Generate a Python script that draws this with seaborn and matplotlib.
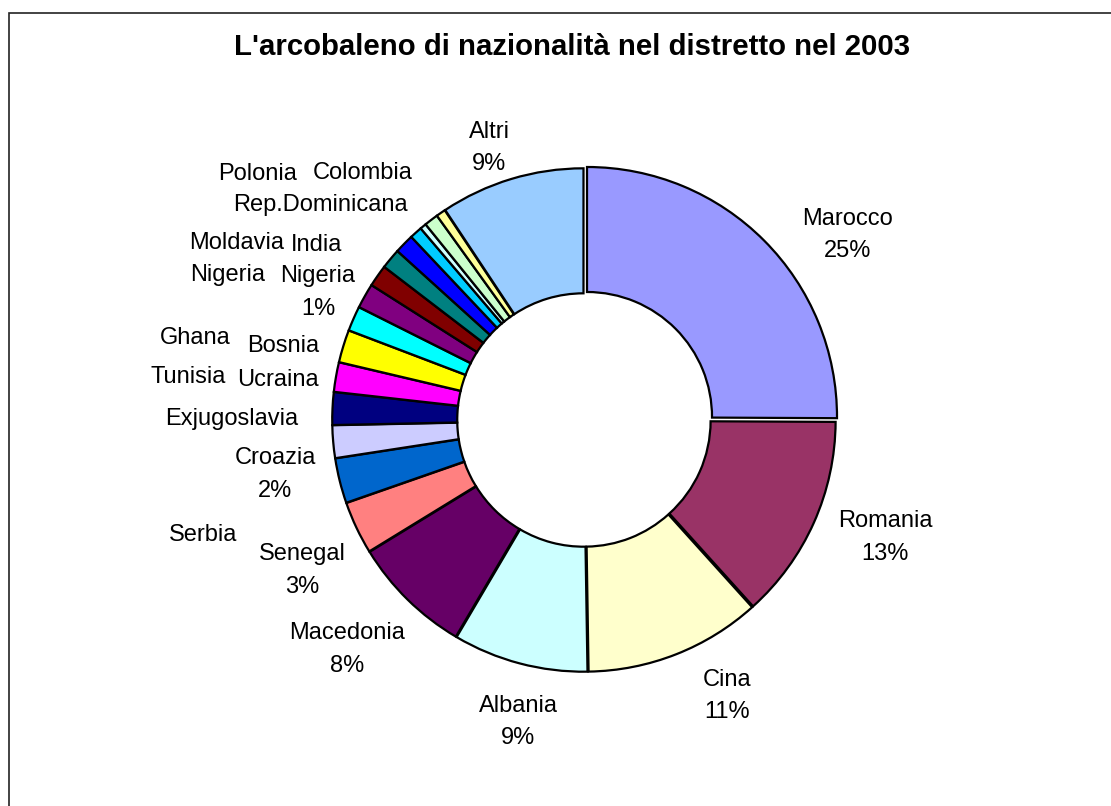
import matplotlib
matplotlib.use("Agg")
import matplotlib.pyplot as plt
from matplotlib.patches import Rectangle
import seaborn as sns

# Foreign residents in the district, 2003 (share of total, %)
countries = ["Marocco", "Romania", "Cina", "Albania", "Macedonia", "Senegal",
             "Serbia", "Croazia", "Exjugoslavia", "Ucraina", "Tunisia", "Bosnia",
             "Ghana", "Nigeria", "Nigeria", "India", "Moldavia", "Rep.Dominicana",
             "Colombia", "Polonia", "Altri"]
shares = [25.0, 13.2, 11.4, 8.7, 7.75, 3.4,
          2.9, 2.1, 2.1, 1.9, 2.1, 1.6,
          1.6, 1.4, 1.3, 1.25, 0.8, 0.4,
          0.9, 0.6, 9.3]
# which labels also carry the percentage
show_pct = [True, True, True, True, True, True,
            False, True, False, False, False, False,
            False, False, True, False, False, False,
            False, False, True]

# classic spreadsheet pie palette
slice_colors = ["#9999FF", "#993366", "#FFFFCC", "#CCFFFF", "#660066", "#FF8080",
                "#0066CC", "#CCCCFF", "#000080", "#FF00FF", "#FFFF00", "#00FFFF",
                "#800080", "#800000", "#008080", "#0000FF", "#00CCFF", "#CCFFFF",
                "#CCFFCC", "#FFFF99", "#99CCFF"]

title = "L'arcobaleno di nazionalità nel distretto nel 2003"

# label anchors, in units of the ring radius from the centre
label_pos = [(1.056, 0.740), (1.204, -0.470), (0.572, -1.104), (-0.264, -1.208),
             (-0.948, -0.918), (-1.128, -0.602), (-1.524, -0.460), (-1.236, -0.218),
             (-1.408, 0.004), (-1.224, 0.160), (-1.584, 0.172), (-1.204, 0.296),
             (-1.556, 0.328), (-1.424, 0.580), (-1.064, 0.510), (-1.068, 0.700),
             (-1.388, 0.708), (-1.056, 0.860), (-0.884, 0.988), (-1.304, 0.984),
             (-0.380, 1.088)]

sns.set_theme(style="white")
plt.rcParams["font.family"] = ["Liberation Sans", "DejaVu Sans"]

W, H, DPI = 1111, 806, 100
fig = plt.figure(figsize=(W / DPI, H / DPI), dpi=DPI)
fig.patch.set_facecolor("white")
ax = fig.add_axes([0, 0, 1, 1])

palette = sns.color_palette(slice_colors, n_colors=len(slice_colors))
explode = [0.017] + [0.007] * (len(shares) - 1)

ax.pie(shares, colors=palette, startangle=90, counterclock=False,
       explode=explode, radius=1.0,
       wedgeprops=dict(width=0.5, edgecolor="black", linewidth=1.6))

# place the ring centre / radius on the canvas
cx, cy, R = 584, 420, 250
ax.set_aspect("auto")
ax.set_xlim(-cx / R, (W - cx) / R)
ax.set_ylim(-(H - cy) / R, cy / R)
ax.axis("off")

total = sum(shares)
for name, val, pct, (lx, ly) in zip(countries, shares, show_pct, label_pos):
    txt = f"{name}\n{round(val / total * 100):d}%" if pct else name
    ax.text(lx, ly, txt, ha="center", va="center", fontsize=17,
            color="black", linespacing=1.6)

fig.text(572 / W, 1 - 47 / H, title, ha="center", va="center",
         fontsize=21.2, fontweight="bold", color="black")

# chart-area border (runs off the right and bottom edges)
fig.patches.append(Rectangle((9 / W, -0.05), 1.2, 1 - 13 / H + 0.05,
                             transform=fig.transFigure, fill=False,
                             edgecolor="#222222", linewidth=1.2))

fig.savefig("out.png", dpi=DPI, facecolor="white")
